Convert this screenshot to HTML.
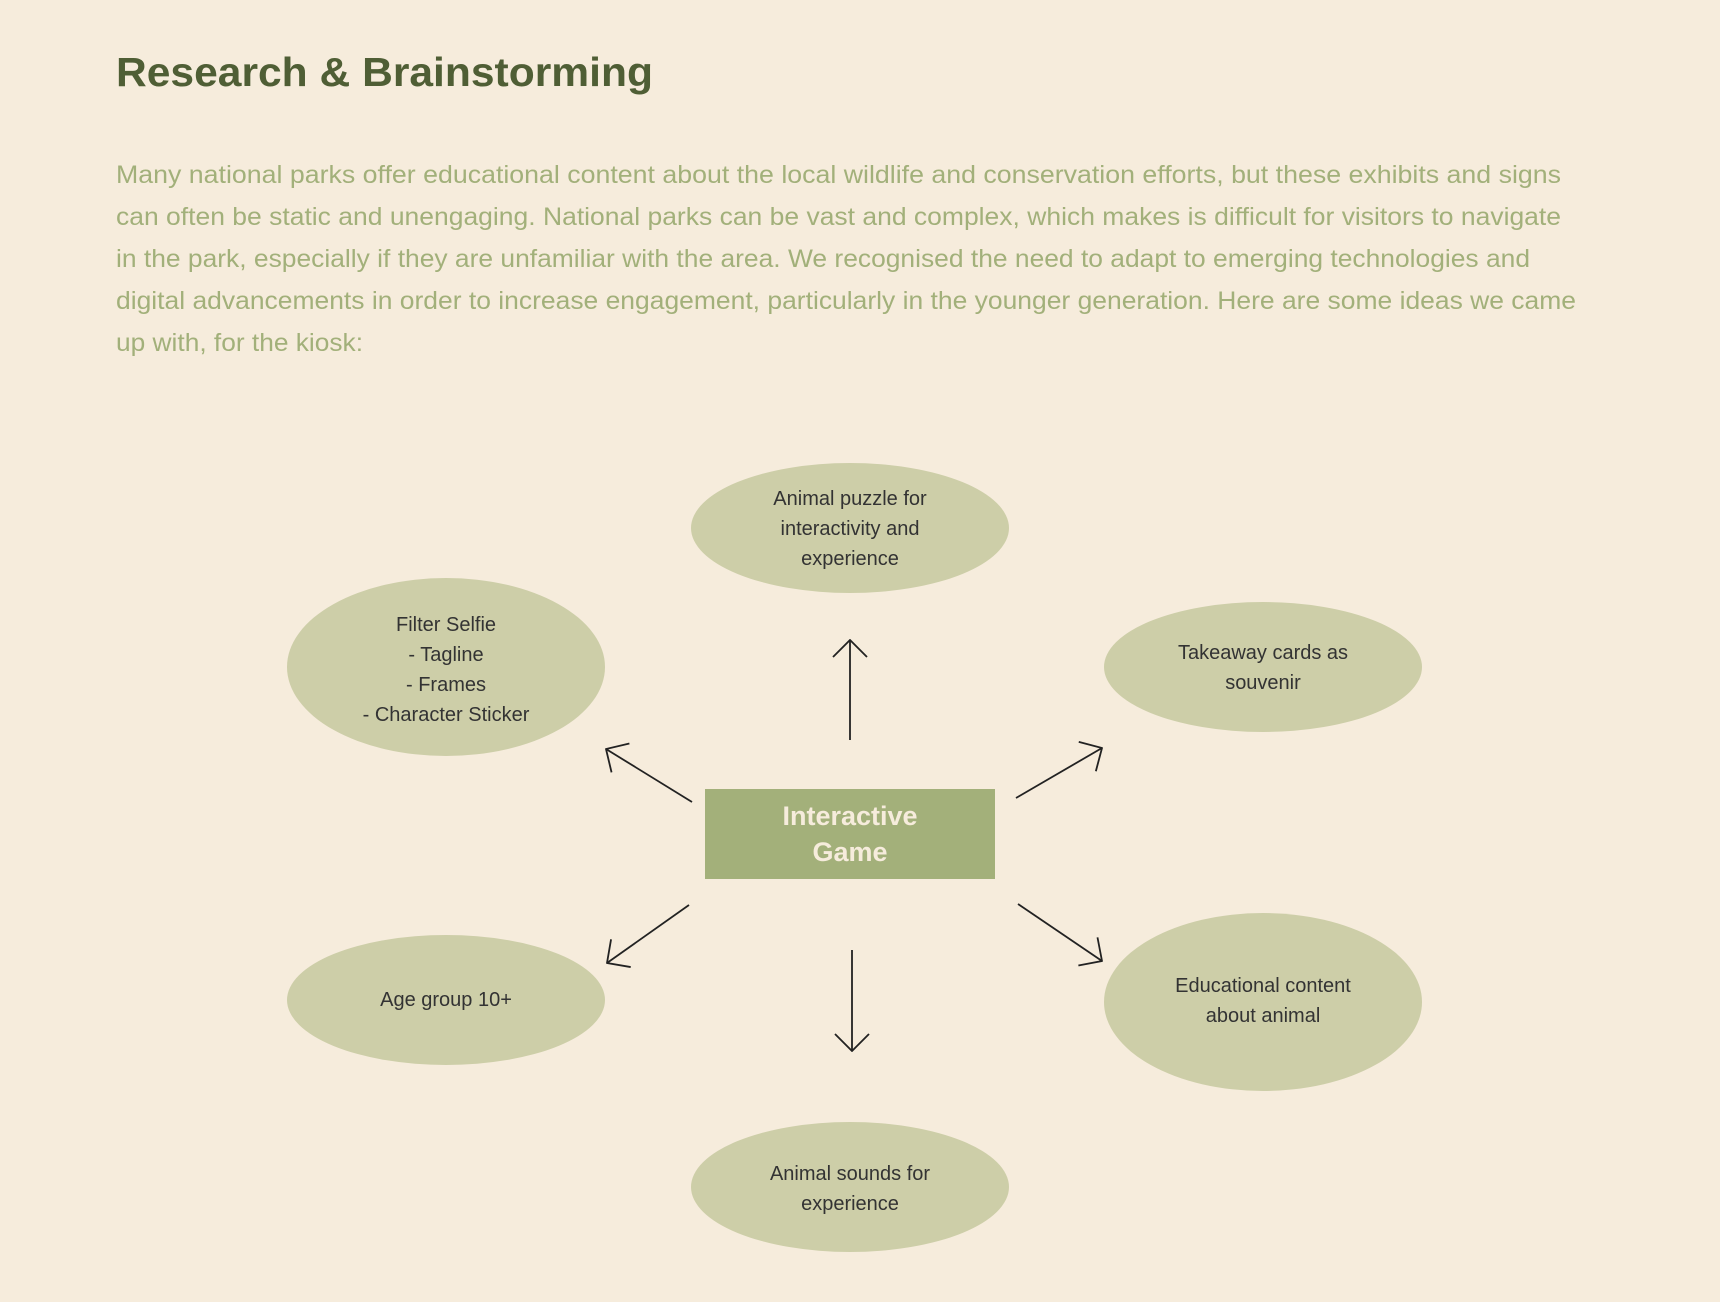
<!DOCTYPE html>
<html><head><meta charset="utf-8"><style>
html,body{margin:0;padding:0;background:#f6ecdc;}
svg{display:block}
</style></head><body>
<svg width="1720" height="1302" viewBox="0 0 1720 1302" xmlns="http://www.w3.org/2000/svg">
<defs>
<marker id="ah" viewBox="0 0 20 36" refX="19" refY="18" markerWidth="20" markerHeight="36" markerUnits="userSpaceOnUse" orient="auto">
<path d="M2,1 L19,18 L2,35" fill="none" stroke="#222" stroke-width="1.8"/>
</marker>
</defs>
<rect width="1720" height="1302" fill="#f6ecdc"/>
<text x="116" y="86" font-family="Liberation Sans, sans-serif" font-weight="bold" font-size="41" fill="#4f5e35" textLength="537" lengthAdjust="spacingAndGlyphs">Research &amp; Brainstorming</text>
<g font-family="Liberation Sans, sans-serif" font-size="25" fill="#a2b07a">
<text x="116" y="183" textLength="1445" lengthAdjust="spacingAndGlyphs">Many national parks offer educational content about the local wildlife and conservation efforts, but these exhibits and signs</text>
<text x="116" y="225" textLength="1445" lengthAdjust="spacingAndGlyphs">can often be static and unengaging. National parks can be vast and complex, which makes is difficult for visitors to navigate</text>
<text x="116" y="267" textLength="1414" lengthAdjust="spacingAndGlyphs">in the park, especially if they are unfamiliar with the area. We recognised the need to adapt to emerging technologies and</text>
<text x="116" y="309" textLength="1460" lengthAdjust="spacingAndGlyphs">digital advancements in order to increase engagement, particularly in the younger generation. Here are some ideas we came</text>
<text x="116" y="351" textLength="247" lengthAdjust="spacingAndGlyphs">up with, for the kiosk:</text>
</g>
<g fill="#cdcea8">
<ellipse cx="850" cy="528" rx="159" ry="65"/>
<ellipse cx="446" cy="667" rx="159" ry="89"/>
<ellipse cx="1263" cy="667" rx="159" ry="65"/>
<ellipse cx="446" cy="1000" rx="159" ry="65"/>
<ellipse cx="1263" cy="1002" rx="159" ry="89"/>
<ellipse cx="850" cy="1187" rx="159" ry="65"/>
</g>
<g font-family="Liberation Sans, sans-serif" font-size="20" fill="#333" text-anchor="middle">
<text x="850" y="505">Animal puzzle for</text>
<text x="850" y="535">interactivity and</text>
<text x="850" y="565">experience</text>
<text x="446" y="631">Filter Selfie</text>
<text x="446" y="661">- Tagline</text>
<text x="446" y="691">- Frames</text>
<text x="446" y="721">- Character Sticker</text>
<text x="1263" y="659">Takeaway cards as</text>
<text x="1263" y="689">souvenir</text>
<text x="446" y="1006">Age group 10+</text>
<text x="1263" y="992">Educational content</text>
<text x="1263" y="1022">about animal</text>
<text x="850" y="1180">Animal sounds for</text>
<text x="850" y="1210">experience</text>
</g>
<rect x="705" y="789" width="290" height="90" fill="#a3b07a"/>
<g font-family="Liberation Sans, sans-serif" font-weight="bold" font-size="27" fill="#f6ecdc" text-anchor="middle">
<text x="850" y="825">Interactive</text>
<text x="850" y="861">Game</text>
</g>
<g stroke="#222" stroke-width="1.8" fill="none" marker-end="url(#ah)">
<line x1="850" y1="740" x2="850" y2="640"/>
<line x1="852" y1="950" x2="852" y2="1051"/>
<line x1="692" y1="802" x2="606" y2="749"/>
<line x1="1016" y1="798" x2="1102" y2="748"/>
<line x1="689" y1="905" x2="607" y2="963"/>
<line x1="1018" y1="904" x2="1102" y2="961"/>
</g>
</svg>
</body></html>
